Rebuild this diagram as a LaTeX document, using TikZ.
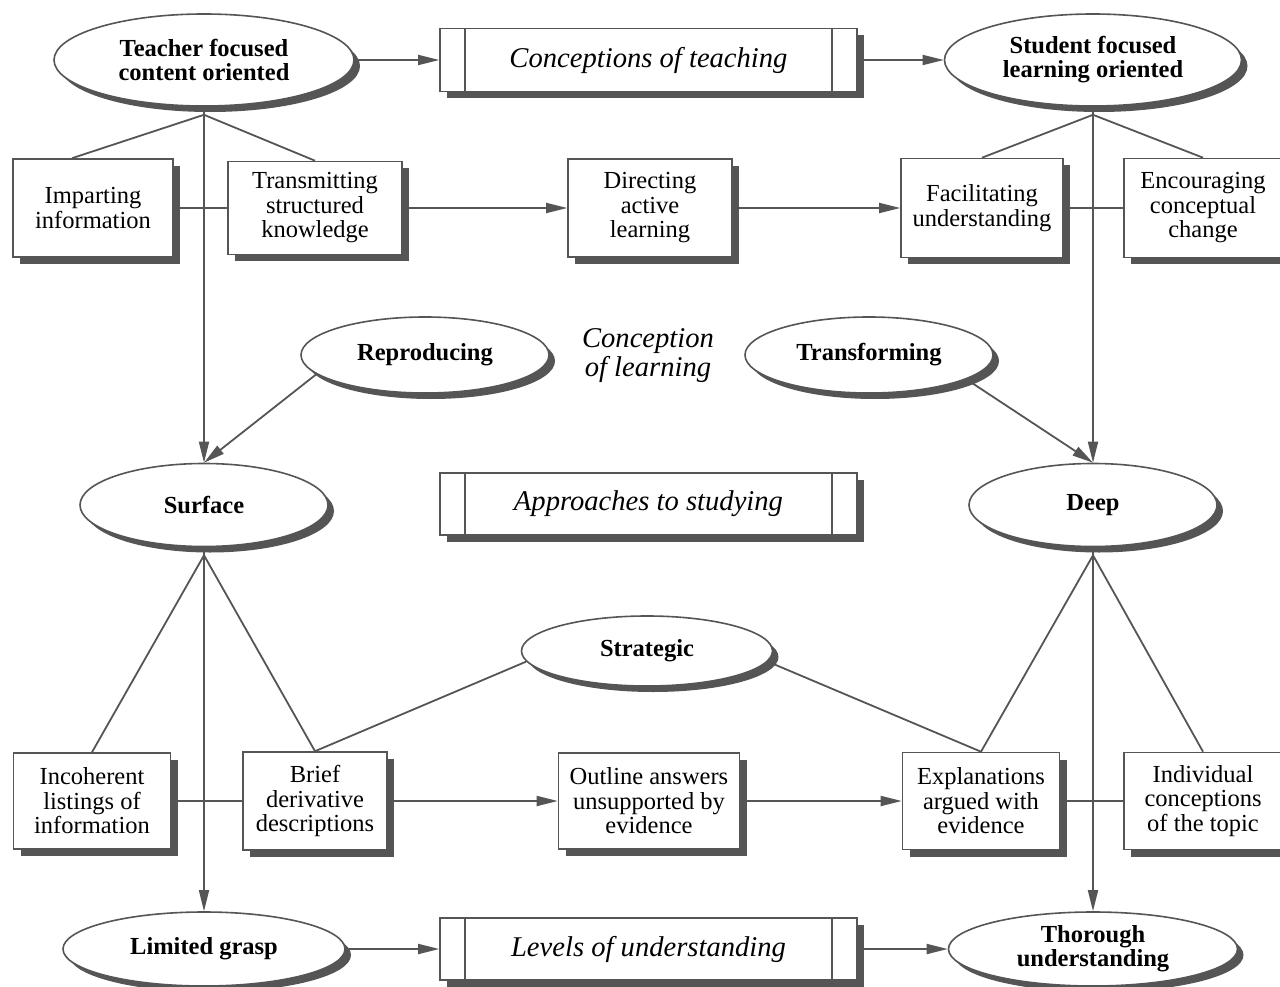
\documentclass[tikz,border=0pt]{standalone}
\usepackage{fontspec}
\setmainfont{Liberation Serif}
\usetikzlibrary{shapes.geometric,shadows,arrows.meta}
\definecolor{linegray}{HTML}{555555}
\definecolor{shadowgray}{HTML}{555555}

\begin{document}
\begin{tikzpicture}[x=1pt,y=-1pt,
  link/.style={draw=linegray,line width=1.8pt},
  flow/.style={link,-{Triangle[length=21pt,width=10pt]}},
  oval/.style={ellipse,draw=linegray,line width=1.6pt,fill=white,inner sep=0pt,align=center,
    font=\fontsize{24.5}{24}\selectfont\bfseries,
    drop shadow={shadow xshift=6pt,shadow yshift=-6pt,fill=shadowgray,opacity=1}},
  textbox/.style={rectangle,draw=linegray,line width=1.6pt,fill=white,inner sep=0pt,align=center,
    font=\fontsize{24.5}{24.5}\selectfont,
    drop shadow={shadow xshift=7pt,shadow yshift=-7pt,fill=shadowgray,opacity=1}},
  procbox/.style={textbox,font=\fontsize{28.6}{29}\selectfont\itshape,minimum width=417pt,minimum height=63pt,
    path picture={
      \draw[link] ([xshift=25pt]path picture bounding box.north west) -- ([xshift=25pt]path picture bounding box.south west);
      \draw[link] ([xshift=-25pt]path picture bounding box.north east) -- ([xshift=-25pt]path picture bounding box.south east);}}]
\useasboundingbox (0,0) rectangle (1280,987);

\node[oval,minimum width=300pt,minimum height=92pt] (teacher) at (204,60) {Teacher focused\\content oriented};
\node[procbox] (teaching) at (648.5,60) {Conceptions of teaching};
\node[oval,minimum width=297pt,minimum height=92pt] (student) at (1093,60) {Student focused\\learning oriented};

\node[textbox,minimum width=160pt,minimum height=98pt] (imparting) at (93,208) {Imparting\\information};
\node[textbox,minimum width=174pt,minimum height=93pt] (transmitting) at (315,208) {Transmitting\\structured\\knowledge};
\node[textbox,minimum width=164pt,minimum height=98pt] (directing) at (650,208) {Directing\\active\\learning};
\node[textbox,minimum width=162pt,minimum height=99pt] (facilitating) at (982,208) {Facilitating\\understanding};
\node[textbox,minimum width=158pt,minimum height=99pt] (encouraging) at (1203,208) {Encouraging\\conceptual\\change};

\node[oval,minimum width=248pt,minimum height=76pt] (reproducing) at (425,355) {Reproducing};
\node[font=\fontsize{28.6}{29}\selectfont\itshape,align=center] (learning) at (648,356) {Conception\\of learning};
\node[oval,minimum width=248pt,minimum height=76pt] (transforming) at (869,355) {Transforming};

\node[oval,minimum width=248pt,minimum height=83pt] (surface) at (204,505) {Surface};
\node[procbox,minimum height=62pt] (studying) at (648.5,504) {Approaches to studying};
\node[oval,minimum width=248pt,minimum height=83pt] (deep) at (1093,505) {Deep};

\node[oval,minimum width=251pt,minimum height=70pt] (strategic) at (647,651) {Strategic};

\node[textbox,minimum width=157pt,minimum height=96pt] (incoherent) at (92,801) {Incoherent\\listings of\\information};
\node[textbox,minimum width=144pt,minimum height=98pt] (brief) at (315,801) {Brief\\derivative\\descriptions};
\node[textbox,minimum width=181pt,minimum height=96pt] (outline) at (649,801) {Outline answers\\unsupported by\\evidence};
\node[textbox,minimum width=157pt,minimum height=97pt] (explanations) at (981,801) {Explanations\\argued with\\evidence};
\node[textbox,minimum width=158pt,minimum height=97pt] (individual) at (1203,801) {Individual\\conceptions\\of the topic};

\node[oval,minimum width=282pt,minimum height=74pt] (limited) at (204,949) {Limited grasp};
\node[procbox,minimum height=62pt] (levels) at (648.5,949) {Levels of understanding};
\node[oval,minimum width=289pt,minimum height=74pt] (thorough) at (1093,949) {Thorough\\understanding};

\coordinate (teacherfoot) at ([yshift=-8pt]teacher.south);
\coordinate (studentfoot) at ([yshift=-8pt]student.south);
\coordinate (surfacefoot) at ([yshift=-8pt]surface.south);
\coordinate (deepfoot) at ([yshift=-8pt]deep.south);

\draw[flow] (teacher) -- (teaching);
\draw[flow] (teaching) -- (student);
\draw[link] (teacherfoot) -- ([xshift=-21pt]imparting.north);
\draw[link] (teacherfoot) -- (transmitting.north);
\draw[flow] (teacher.south) -- (surface.north);
\draw[link] (studentfoot) -- (facilitating.north);
\draw[link] (studentfoot) -- (encouraging.north);
\draw[flow] (student.south) -- (deep.north);
\draw[link] (imparting) -- (transmitting);
\draw[flow] (transmitting) -- (directing);
\draw[flow] (directing) -- (facilitating);
\draw[link] (facilitating) -- (encouraging);

\draw[flow] (reproducing.190) -- (surface.north);
\draw[flow] (transforming.346) -- (deep.north);

\draw[link] (surfacefoot) -- (incoherent.north);
\draw[link] (surfacefoot) -- (brief.north);
\draw[flow] (surface.south) -- (limited.north);
\draw[link] (deepfoot) -- (explanations.north);
\draw[link] (deepfoot) -- (individual.north);
\draw[flow] (deep.south) -- (thorough.north);
\draw[link] (strategic.185) -- (brief.north);
\draw[link] (strategic.355) -- (explanations.north);
\draw[link] (incoherent) -- (brief);
\draw[flow] (brief) -- (outline);
\draw[flow] (outline) -- (explanations);
\draw[link] (explanations) -- (individual);

\draw[flow] (limited) -- (levels);
\draw[flow] (levels) -- (thorough);
\end{tikzpicture}
\end{document}
